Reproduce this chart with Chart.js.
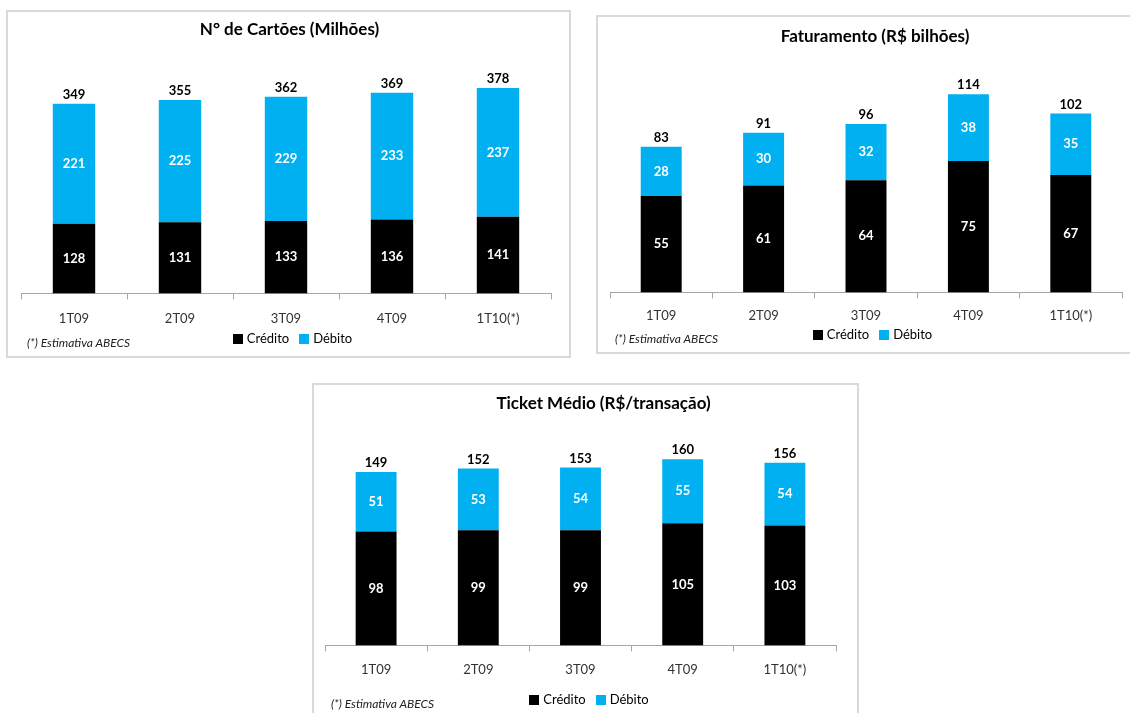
<!DOCTYPE html>
<html>
<head>
<meta charset="utf-8">
<script src="https://cdn.jsdelivr.net/npm/chart.js@4"></script>
<style>
  body { margin: 0; background: #fff; width: 1130px; height: 713px; overflow: hidden; position: relative; font-family: Lato, sans-serif; }
  .box { position: absolute; border: 2px solid #d9d9d9; box-sizing: border-box; background: #fff; }
  .box canvas { position: absolute; left: 0; top: 0; }
  .titulo { position: absolute; left: 0; right: 0; text-align: center; font-size: 17px; line-height: 20px; font-weight: bold; color: #000; white-space: nowrap; }
  .nota { position: absolute; font-size: 12px; line-height: 14px; font-style: italic; color: #222; white-space: nowrap; }
  .legenda { position: absolute; left: 0; right: 0; text-align: center; font-size: 13px; line-height: 16px; color: #000; }
  .legenda span { display: inline-block; margin: 0 5px; }
  .legenda i { display: inline-block; width: 10px; height: 10px; margin-right: 4px; vertical-align: -1px; }
</style>
</head>
<body>

<div class="box" id="box1" style="left:6px; top:10px; width:565px; height:348px;">
  <canvas id="chart-cartoes"></canvas>
  <div class="titulo" style="top:7px; padding-left:2px;">N° de Cartões (Milhões)</div>
  <div class="legenda" id="leg-cartoes" style="top:318px; padding-left:8px;"></div>
  <div class="nota" style="left:19px; top:324px;">(*) Estimativa ABECS</div>
</div>
<div class="box" id="box2" style="left:596px; top:15px; width:545px; height:339px;">
  <canvas id="chart-fat"></canvas>
  <div class="titulo" style="top:9px; padding-left:13px;">Faturamento (R$ bilhões)</div>
  <div class="legenda" id="leg-fat" style="top:309px; padding-left:8px;"></div>
  <div class="nota" style="left:17px; top:315px;">(*) Estimativa ABECS</div>
</div>
<div class="box" id="box3" style="left:312px; top:383px; width:547px; height:345px;">
  <canvas id="chart-ticket"></canvas>
  <div class="titulo" style="top:8px; padding-left:36px;">Ticket Médio (R$/transação)</div>
  <div class="legenda" id="leg-ticket" style="top:306px; padding-left:7px;"></div>
  <div class="nota" style="left:17px; top:312px;">(*) Estimativa ABECS</div>
</div>

<script>
// dados
var trimestres = ['1T09', '2T09', '3T09', '4T09', '1T10(*)'];

var cartoesCredito = [128, 131, 133, 136, 141];
var cartoesDebito = [221, 225, 229, 233, 237];
var cartoesTotal = [349, 355, 362, 369, 378];

var fatCredito = [55, 61, 64, 75, 67];
var fatDebito = [28, 30, 32, 38, 35];
var fatTotal = [83, 91, 96, 114, 102];

var ticketCredito = [98, 99, 99, 105, 103];
var ticketDebito = [51, 53, 54, 55, 54];
var ticketTotal = [149, 152, 153, 160, 156];

var corCredito = '#000000';
var corDebito = '#00b0f0';

// rotulos dentro das barras e total em cima
var valueLabels = {
  id: 'valueLabels',
  afterDatasetsDraw: function (chart, args, opts) {
    var ctx = chart.ctx;
    ctx.save();
    ctx.textAlign = 'center';
    ctx.textBaseline = 'middle';
    ctx.font = 'bold 13px Lato';
    chart.data.datasets.forEach(function (ds, i) {
      var meta = chart.getDatasetMeta(i);
      meta.data.forEach(function (bar, j) {
        ctx.fillStyle = '#ffffff';
        ctx.fillText(ds.data[j], bar.x, (bar.y + bar.base) / 2);
      });
    });
    var topo = chart.getDatasetMeta(chart.data.datasets.length - 1);
    ctx.fillStyle = '#000000';
    topo.data.forEach(function (bar, j) {
      ctx.fillText(opts.totals[j], bar.x, bar.y - 9);
    });
    ctx.restore();
  }
};

// legenda em html
function legenda(chart, id) {
  var el = document.getElementById(id);
  chart.data.datasets.forEach(function (ds) {
    el.innerHTML += '<span><i style="background:' + ds.backgroundColor + '"></i>' + ds.label + '</span>';
  });
}

function grafico(id, w, h, credito, debito, totais, max, pad) {
  var canvas = document.getElementById(id);
  canvas.style.width = w + 'px';
  canvas.style.height = h + 'px';
  return new Chart(canvas.getContext('2d'), {
    type: 'bar',
    data: {
      labels: trimestres,
      datasets: [{
        label: 'Crédito',
        data: credito,
        backgroundColor: corCredito,
        barPercentage: 0.4,
        categoryPercentage: 1
      }, {
        label: 'Débito',
        data: debito,
        backgroundColor: corDebito,
        barPercentage: 0.4,
        categoryPercentage: 1
      }]
    },
    options: {
      responsive: false,
      animation: false,
      layout: { padding: { left: pad.left, right: pad.right, bottom: pad.bottom, top: pad.top } },
      plugins: {
        legend: { display: false },
        tooltip: { enabled: false },
        valueLabels: { totals: totais }
      },
      scales: {
        x: {
          stacked: true,
          grid: {
            display: true,
            offset: true,
            drawOnChartArea: false,
            drawTicks: true,
            tickLength: 6,
            color: '#a6a6a6'
          },
          border: { display: true, color: '#a6a6a6', width: 1 },
          ticks: {
            color: '#333',
            padding: pad.tick,
            font: { family: 'Lato', size: 13 }
          }
        },
        y: {
          stacked: true,
          display: false,
          min: 0,
          max: max
        }
      }
    },
    plugins: [valueLabels]
  });
}

var grafCartoes = grafico('chart-cartoes', 561, 344,
  cartoesCredito, cartoesDebito, cartoesTotal, 400,
  { left: 13, right: 18, top: 64, bottom: 17, tick: 12 });
legenda(grafCartoes, 'leg-cartoes');

var grafFat = grafico('chart-fat', 541, 335,
  fatCredito, fatDebito, fatTotal, 120,
  { left: 12, right: 17, top: 65, bottom: 18, tick: 10 });
legenda(grafFat, 'leg-fat');

var grafTicket = grafico('chart-ticket', 543, 341,
  ticketCredito, ticketDebito, ticketTotal, 180,
  { left: 11, right: 21, top: 51, bottom: 37, tick: 11 });
legenda(grafTicket, 'leg-ticket');
</script>
</body>
</html>
